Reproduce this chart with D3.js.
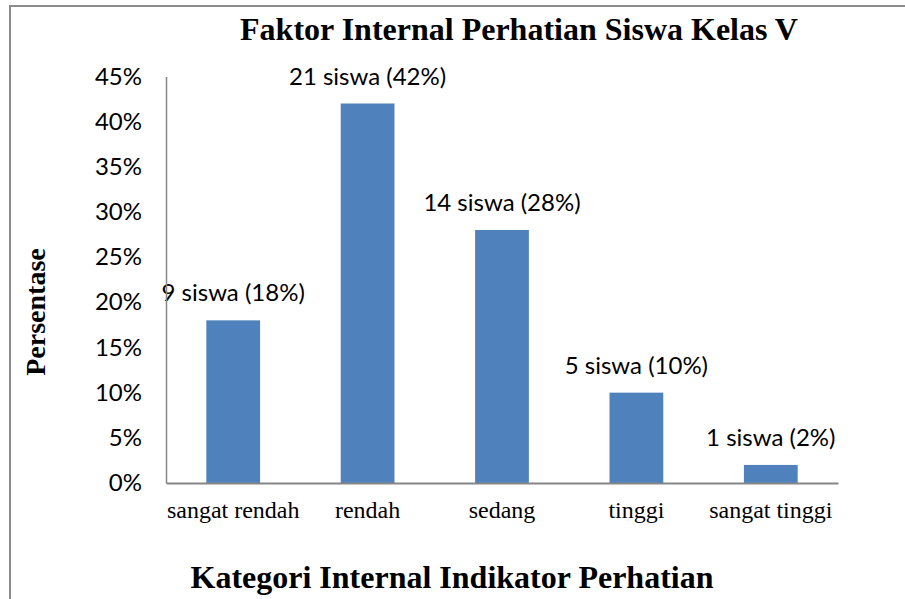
<!DOCTYPE html>
<html lang="id">
<head>
<meta charset="utf-8">
<title>Faktor Internal Perhatian Siswa Kelas V</title>
<style>
html,body{margin:0;padding:0;background:#fff;overflow:hidden;}
svg{display:block;}
.serif{font-family:"Liberation Serif","Times New Roman",serif;}
.sans{font-family:Lato,"Open Sans",sans-serif;}
</style>
</head>
<body>
<div id="chart"></div>
<script src="https://cdn.jsdelivr.net/npm/d3@7"></script>
<script>
// data
const categories = ['sangat rendah','rendah','sedang','tinggi','sangat tinggi'];
const percents   = [0.18, 0.42, 0.28, 0.10, 0.02];
const students   = [9, 21, 14, 5, 1];
const yTicks     = [0,0.05,0.10,0.15,0.20,0.25,0.30,0.35,0.40,0.45];

const W = 905, H = 599;
const plot = {left:166, right:838, top:76.4, bottom:483};

const svg = d3.select('#chart').append('svg')
  .attr('width', W).attr('height', H);

// outer frame (right/bottom edges fall outside the picture)
svg.append('rect')
  .attr('x', 10).attr('y', 6).attr('width', 1000).attr('height', 1000)
  .attr('fill', 'none').attr('stroke', '#8c8c8c').attr('stroke-width', 2);

const x = d3.scaleBand().domain(categories)
  .range([plot.left, plot.right]).paddingInner(0.6).paddingOuter(0.3);
const y = d3.scaleLinear().domain([0, 0.45]).range([plot.bottom, plot.top]);

/* bars */
svg.append('g').selectAll('rect')
  .data(categories)
  .join('rect')
  .attr('x', d => x(d))
  .attr('width', x.bandwidth())
  .attr('y', (d,i) => y(percents[i]))
  .attr('height', (d,i) => y(0) - y(percents[i]))
  .attr('fill', '#4f81bd');

/* value labels */
svg.append('g').attr('class','sans').selectAll('text')
  .data(categories)
  .join('text')
  .attr('x', d => x(d) + x.bandwidth()/2)
  .attr('y', (d,i) => y(percents[i]) - 19)
  .attr('text-anchor', 'middle')
  .attr('font-size', 24)
  .attr('fill', '#000')
  .text((d,i) => `${students[i]} siswa (${Math.round(percents[i]*100)}%)`);

/* y axis: tick labels only + line */
const yAxis = d3.axisLeft(y).tickValues(yTicks)
  .tickFormat(d3.format('.0%')).tickSize(0).tickPadding(24);
const gy = svg.append('g').attr('transform', `translate(${plot.left},0)`).call(yAxis);
gy.select('.domain').attr('stroke', '#868686').attr('stroke-width', 1.5);
gy.selectAll('text').attr('class','sans').attr('font-size', 24).attr('fill', '#000')
  .attr('font-family', 'Lato, sans-serif');

/* x axis */
const xAxis = d3.axisBottom(x).tickSize(0).tickPadding(18);
const gx = svg.append('g').attr('transform', `translate(0,${plot.bottom})`).call(xAxis);
gx.select('.domain').attr('stroke', '#868686').attr('stroke-width', 2);
gx.selectAll('text').attr('font-size', 24).attr('fill', '#000')
  .attr('font-family', '"Liberation Serif","Times New Roman",serif');

/* titles */
svg.append('text').attr('class','serif')
  .attr('x', 519).attr('y', 40)
  .attr('text-anchor', 'middle')
  .attr('font-size', 32).attr('font-weight', 'bold')
  .text('Faktor Internal Perhatian Siswa Kelas V');

svg.append('text').attr('class','serif')
  .attr('transform', 'translate(45,312) rotate(-90)')
  .attr('text-anchor', 'middle')
  .attr('font-size', 28).attr('font-weight', 'bold')
  .text('Persentase');

svg.append('text').attr('class','serif')
  .attr('x', 452).attr('y', 588)
  .attr('text-anchor', 'middle')
  .attr('font-size', 32).attr('font-weight', 'bold')
  .text('Kategori Internal Indikator Perhatian');
</script>
</body>
</html>
